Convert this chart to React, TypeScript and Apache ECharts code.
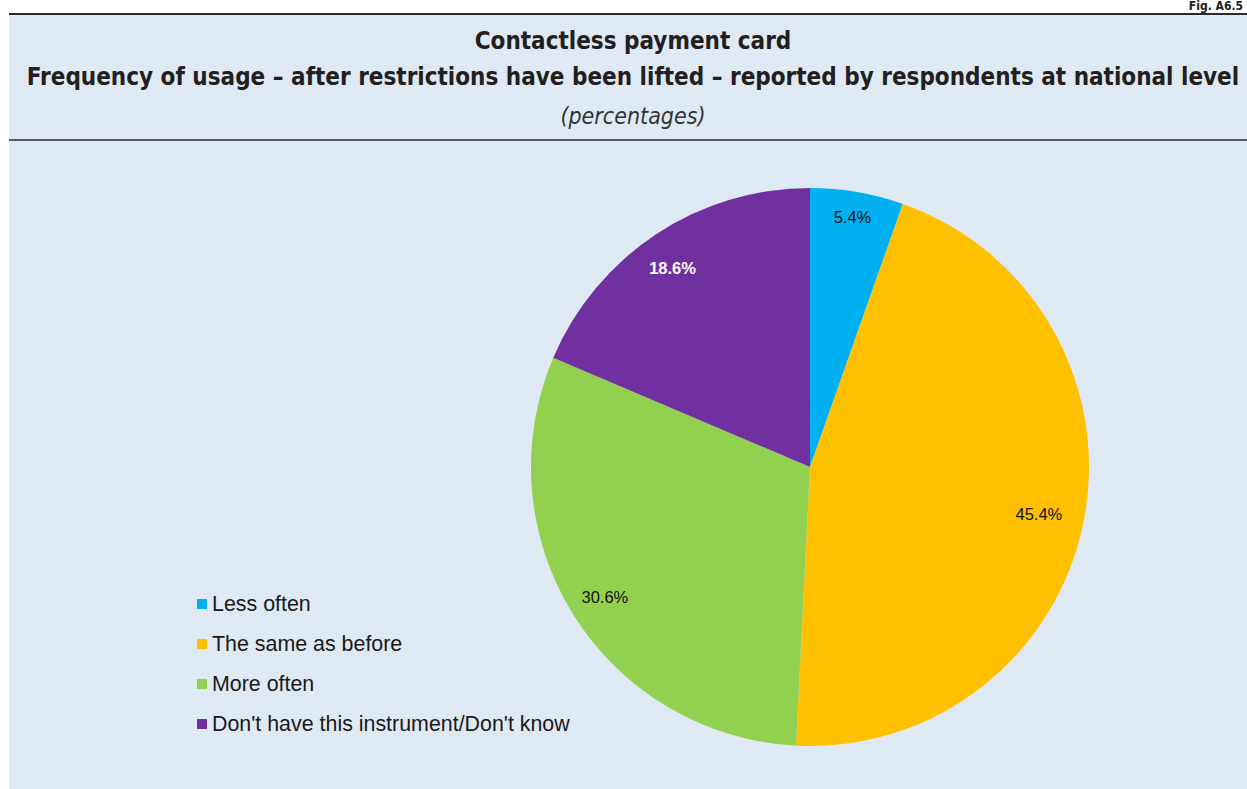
import React, { useEffect, useRef } from "react";
import * as echarts from "echarts";

const categories = ["Less often", "The same as before", "More often", "Don't have this instrument/Don't know"];
const values = [5.4, 45.4, 30.6, 18.6];
const colors = ["#00b0f0", "#ffc000", "#92d050", "#7030a0"];
const labelColors = ["#111111", "#111111", "#111111", "#ffffff"];
const labelWeights = ["normal", "normal", "normal", "bold"];
const labelOffsets = [[1, -8], [-12, -1], [3, 0], [-2, 6]];

const TITLE_FONT = "'DejaVu Sans Condensed', 'Liberation Sans', sans-serif";
const BODY_FONT = "'Liberation Sans', Arial, sans-serif";
const BG = "#dfe9f3";

export default function App() {
  const ref = useRef<HTMLDivElement>(null);
  useEffect(() => {
    if (!ref.current) return;
    const chart = echarts.init(ref.current, undefined, { renderer: "svg" });
    const data = categories.map((name, i) => ({
      name,
      value: values[i],
      itemStyle: { color: colors[i] },
    }));
    const labelData = categories.map((name, i) => ({
      name,
      value: values[i],
      label: { color: labelColors[i], fontWeight: labelWeights[i] as any, offset: labelOffsets[i] },
    }));
    chart.setOption({
      animation: false,
      backgroundColor: "#ffffff",
      graphic: [
        { type: "rect", shape: { x: 9, y: 14, width: 1240, height: 780 }, style: { fill: BG }, z: -10 },
        { type: "line", shape: { x1: 9, y1: 14, x2: 1247, y2: 14 }, style: { stroke: "#2b2b2b", lineWidth: 2 } },
        { type: "line", shape: { x1: 9, y1: 140, x2: 1247, y2: 140 }, style: { stroke: "#2b2b2b", lineWidth: 1.5 } },
        {
          type: "text", x: 1243, y: 0,
          style: { text: "Fig. A6.5", font: `bold 12px ${TITLE_FONT}`, fill: "#222", align: "right", verticalAlign: "top" },
        },
        {
          type: "text", x: 633, y: 41,
          style: { text: "Contactless payment card", font: `bold 24px ${TITLE_FONT}`, fill: "#231f20", align: "center", verticalAlign: "middle" },
        },
        {
          type: "text", x: 633, y: 77,
          style: { text: "Frequency of usage – after restrictions have been lifted – reported by respondents at national level", font: `bold 24px ${TITLE_FONT}`, fill: "#231f20", align: "center", verticalAlign: "middle" },
        },
        {
          type: "text", x: 633, y: 116,
          style: { text: "(percentages)", font: `italic 23px ${TITLE_FONT}`, fill: "#333", align: "center", verticalAlign: "middle" },
        },
      ],
      legend: {
        orient: "vertical",
        left: 192,
        top: 587,
        icon: "rect",
        itemWidth: 10,
        itemHeight: 10,
        itemGap: 16,
        data: categories,
        textStyle: { fontFamily: BODY_FONT, fontSize: 21.4, color: "#1a1a1a", lineHeight: 24 },
      },
      series: [
        {
          type: "pie",
          center: [810, 467],
          radius: 279,
          startAngle: 90,
          clockwise: true,
          silent: true,
          data,
          label: { show: false },
          labelLine: { show: false },
          itemStyle: { borderWidth: 0 },
        },
        {
          type: "pie",
          center: [810, 467],
          radius: [206, 279],
          startAngle: 90,
          clockwise: true,
          silent: true,
          legendHoverLink: false,
          data: labelData,
          itemStyle: { color: "rgba(0,0,0,0)", borderWidth: 0 },
          label: {
            show: true,
            position: "inside",
            formatter: (p: any) => `${p.value.toFixed(1)}%`,
            fontFamily: BODY_FONT,
            fontSize: 16.5,
          },
          labelLine: { show: false },
        },
      ],
    });
    return () => chart.dispose();
  }, []);
  return <div ref={ref} style={{ position: "fixed", left: 0, top: 0, width: 1247, height: 789 }} />;
}
